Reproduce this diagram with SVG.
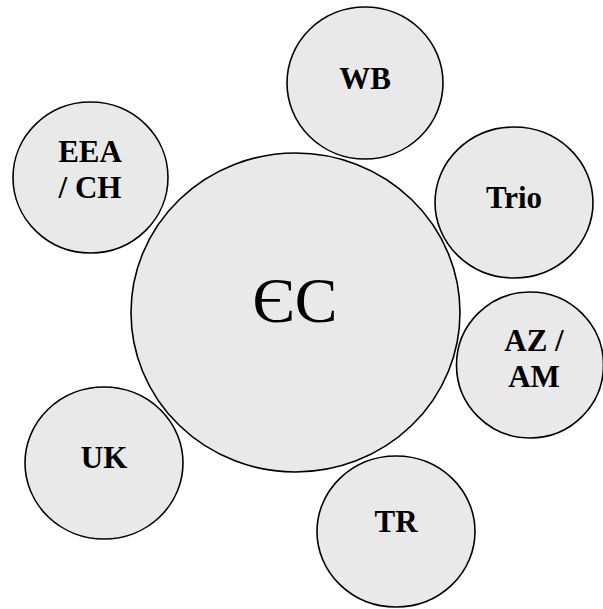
<svg xmlns="http://www.w3.org/2000/svg" width="603" height="609" viewBox="0 0 603 609">
<style>
.n{fill:#e9e9e9;stroke:#000;stroke-width:1.6}
.t{font-family:'Liberation Serif',serif;font-weight:bold;font-size:31px;fill:#000;text-anchor:middle}
.c{font-family:'Liberation Serif',serif;font-size:64px;fill:#000;text-anchor:middle}
</style>
<rect width="603" height="609" fill="#fff"/>
<g id="connectors"></g>
<g id="ec"><ellipse class="n" cx="295.5" cy="312.5" rx="164.5" ry="159.5"/><text class="c" x="295" y="322">ЄС</text></g>
<g id="wb"><ellipse class="n" cx="365" cy="83" rx="78" ry="76"/><text class="t" x="365" y="89">WB</text></g>
<g id="eea"><ellipse class="n" cx="90.5" cy="177.5" rx="77.5" ry="75.5"/><text class="t" x="90" y="162">EEA</text><text class="t" x="90" y="198">/ CH</text></g>
<g id="trio"><ellipse class="n" cx="514" cy="202.5" rx="79" ry="75.5"/><text class="t" x="514" y="208">Trio</text></g>
<g id="azam"><ellipse class="n" cx="530" cy="365" rx="73.5" ry="73"/><text class="t" x="534" y="351">AZ /</text><text class="t" x="534" y="387">AM</text></g>
<g id="uk"><ellipse class="n" cx="104" cy="463" rx="79" ry="76"/><text class="t" x="104" y="468">UK</text></g>
<g id="tr"><ellipse class="n" cx="396" cy="531.5" rx="79" ry="75.5"/><text class="t" x="396" y="532">TR</text></g>
</svg>
